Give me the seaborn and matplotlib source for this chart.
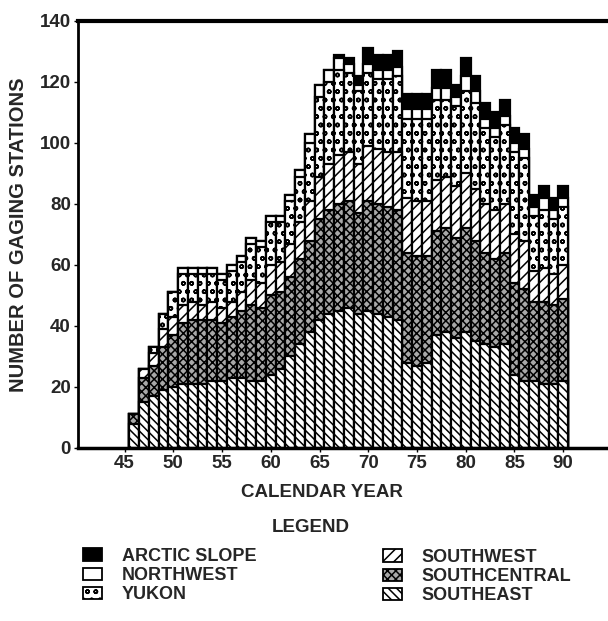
import numpy as np
import pandas as pd
import matplotlib
matplotlib.use("Agg")
import matplotlib.pyplot as plt
from matplotlib.patches import Patch
import seaborn as sns

# ---- data ----
years = list(range(46, 91))  # calendar years 1946-1990 (two-digit)
southeast = [8, 15, 17, 19, 20, 21, 21, 21, 22, 22, 23, 23, 22, 22, 24, 26, 30, 34, 38, 42,
             44, 45, 46, 44, 45, 44, 43, 42, 28, 27, 28, 37, 38, 36, 38, 35, 34, 33, 34, 24,
             22, 22, 21, 21, 22]
southcentral = [3, 8, 10, 14, 17, 20, 21, 21, 20, 19, 20, 22, 25, 24, 26, 25, 26, 28, 30, 33,
                34, 35, 35, 33, 36, 36, 36, 36, 36, 36, 35, 34, 34, 33, 34, 33, 30, 29, 30, 30,
                30, 26, 27, 26, 27]
southwest = [0, 3, 4, 6, 6, 6, 6, 5, 6, 5, 5, 6, 8, 8, 10, 10, 11, 12, 13, 14,
             15, 16, 16, 16, 18, 18, 18, 19, 18, 18, 18, 17, 17, 17, 18, 17, 16, 16, 16, 16,
             16, 10, 11, 10, 11]
yukon = [0, 0, 2, 5, 8, 10, 9, 10, 9, 9, 10, 10, 12, 12, 14, 13, 14, 15, 19, 26,
         27, 28, 26, 24, 24, 23, 24, 25, 26, 27, 27, 26, 25, 26, 27, 28, 25, 24, 26, 27,
         27, 18, 19, 18, 19]
northwest = [0, 0, 0, 0, 0, 2, 2, 2, 2, 2, 2, 2, 2, 2, 2, 2, 2, 2, 3, 4,
             4, 4, 3, 2, 3, 3, 3, 3, 3, 3, 3, 4, 4, 3, 5, 4, 3, 3, 3, 3,
             3, 3, 4, 3, 3]
arctic_slope = [0, 0, 0, 0, 0, 0, 0, 0, 0, 0, 0, 0, 0, 0, 0, 0, 0, 0, 0, 0,
                0, 1, 2, 3, 5, 5, 5, 5, 5, 5, 5, 6, 6, 4, 6, 5, 5, 5, 5, 5,
                5, 4, 4, 4, 4]

regions = ["SOUTHEAST", "SOUTHCENTRAL", "SOUTHWEST", "YUKON", "NORTHWEST", "ARCTIC SLOPE"]
series = [southeast, southcentral, southwest, yukon, northwest, arctic_slope]
xticks = [45, 50, 55, 60, 65, 70, 75, 80, 85, 90]
yticks = [0, 20, 40, 60, 80, 100, 120, 140]

# ---- styling ----
sns.set_theme(style="ticks")
plt.rcParams["font.family"] = ["Liberation Sans", "DejaVu Sans"]
plt.rcParams["hatch.linewidth"] = 1.1
plt.rcParams["hatch.color"] = "black"

styles = {
    "SOUTHEAST": dict(facecolor="white", hatch="\\\\\\\\"),
    "SOUTHCENTRAL": dict(facecolor="#a8a8a8", hatch="xxxx"),
    "SOUTHWEST": dict(facecolor="white", hatch="///"),
    "YUKON": dict(facecolor="white", hatch="oo"),
    "NORTHWEST": dict(facecolor="white", hatch=""),
    "ARCTIC SLOPE": dict(facecolor="black", hatch=""),
}

df = pd.DataFrame({"year": years})
for name, vals in zip(regions, series):
    df[name] = vals
cum = df[regions].cumsum(axis=1)

fig = plt.figure(figsize=(6.08, 6.21), dpi=100)
ax = fig.add_axes([0.128, 0.2786, 0.872, 0.6876])

# draw cumulative layers from the top down so lower layers overlay upper ones
for name in reversed(regions):
    st = styles[name]
    sns.barplot(x=df["year"], y=cum[name], native_scale=True, width=1.0,
                errorbar=None, color=st["facecolor"], saturation=1,
                edgecolor="black", linewidth=1.6, hatch=st["hatch"], ax=ax)

ax.set_xlim(40.2, 94.6)
ax.set_ylim(0, 140)
ax.set_xticks(xticks)
ax.set_xticklabels([str(t) for t in xticks], fontsize=13.5, fontweight="bold")
ax.set_yticks(yticks)
ax.set_yticklabels([str(t) for t in yticks], fontsize=13.5, fontweight="bold")
ax.tick_params(axis="both", length=3, width=1, color="black", pad=2)
ax.set_xlabel("CALENDAR YEAR", fontsize=13.5, fontweight="bold")
ax.xaxis.set_label_coords(0.46, -0.085)
ax.set_ylabel("NUMBER OF GAGING STATIONS", fontsize=14.5, fontweight="bold")
ax.yaxis.set_label_coords(-0.094, 0.5)

ax.spines["right"].set_visible(False)
ax.spines["top"].set_linewidth(3)
ax.spines["bottom"].set_linewidth(2.5)
ax.spines["left"].set_linewidth(2)
for s in ax.spines.values():
    s.set_color("black")

# legend
fig.text(311 / 608, 1 - 528 / 621, "LEGEND", ha="center", va="center",
         fontsize=13.5, fontweight="bold")


def make_handles(names):
    return [Patch(facecolor=styles[n]["facecolor"], hatch=styles[n]["hatch"],
                  edgecolor="black", linewidth=1.3, label=n) for n in names]


leg_kw = dict(loc="upper left", frameon=False, borderpad=0, borderaxespad=0,
              handlelength=1.05, handleheight=0.7, handletextpad=1.1,
              labelspacing=0.12, prop={"size": 13, "weight": "bold"})
leg1 = fig.legend(handles=make_handles(["ARCTIC SLOPE", "NORTHWEST", "YUKON"]),
                  bbox_to_anchor=(83 / 608, 1 - 548 / 621), **leg_kw)
leg2 = fig.legend(handles=make_handles(["SOUTHWEST", "SOUTHCENTRAL", "SOUTHEAST"]),
                  bbox_to_anchor=(383 / 608, 1 - 549 / 621), **leg_kw)

fig.savefig("out.png", dpi=100)
